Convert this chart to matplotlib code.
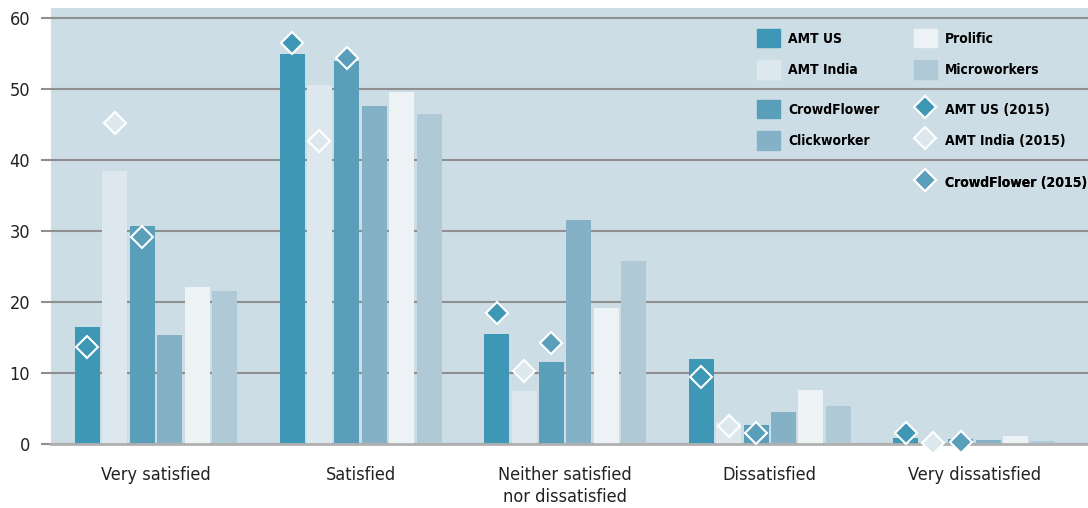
import matplotlib.pyplot as plt
from matplotlib.patches import Patch
from matplotlib.lines import Line2D
import numpy as np

categories = ['Very satisfied', 'Satisfied', 'Neither satisfied\nnor dissatisfied',
              'Dissatisfied', 'Very dissatisfied']

# bars (2017)
amt_us = [16.5, 54.9, 15.5, 12.0, 0.85]
amt_india = [38.5, 50.6, 7.5, 3.1, 0.0]
crowdflower = [30.7, 53.9, 11.5, 2.7, 0.7]
clickworker = [15.4, 47.6, 31.5, 4.5, 0.55]
prolific = [22.1, 49.6, 19.2, 7.6, 1.1]
microworkers = [21.5, 46.5, 25.8, 5.4, 0.4]

# diamonds (2015)
amt_us_2015 = [13.6, 56.5, 18.5, 9.5, 1.6]
amt_india_2015 = [45.2, 42.6, 10.3, 2.6, 0.1]
crowdflower_2015 = [29.1, 54.4, 14.2, 1.6, 0.3]

bar_series = [('AMT US', amt_us, '#3d97b5'),
              ('AMT India', amt_india, '#dde8ee'),
              ('CrowdFlower', crowdflower, '#5a9fba'),
              ('Clickworker', clickworker, '#85b1c7'),
              ('Prolific', prolific, '#edf2f5'),
              ('Microworkers', microworkers, '#b0c9d6')]

plt.rcParams['font.family'] = ['DejaVu Sans']
plt.rcParams['font.stretch'] = 'condensed'

fig = plt.figure(figsize=(10.88, 5.08), dpi=100)
ax = fig.add_axes([51/1088, 1-444/508, 1-51/1088, (444-8)/508])
ax.set_facecolor('#cddde5')

x = np.arange(len(categories))
step = 0.134
w = 0.122
offsets = (np.arange(6) - 2.5) * step
for (name, vals, col), off in zip(bar_series, offsets):
    ax.bar(x + off, vals, width=w, color=col, zorder=2)

marker_series = [('AMT US (2015)', amt_us_2015, '#3d97b5', offsets[0]),
                 ('AMT India (2015)', amt_india_2015, '#dde8ee', offsets[1]),
                 ('CrowdFlower (2015)', crowdflower_2015, '#5a9fba', offsets[2])]
for name, vals, col, off in marker_series:
    ax.plot(x + off, vals, ls='none', marker='D', ms=11, mfc=col, mec='white',
            mew=1.5, zorder=3, clip_on=False)

ax.set_xlim(-0.513, 4.555)
ax.set_ylim(0, 61.4)
ax.set_yticks(range(0, 61, 10))
ax.yaxis.grid(True, color='#8f8f8f', lw=1.5)
ax.set_axisbelow(True)
for s in ['top', 'right', 'left']:
    ax.spines[s].set_visible(False)
ax.spines['bottom'].set_color('#b0b0b0')
ax.spines['bottom'].set_linewidth(2)
ax.tick_params(axis='y', length=7, width=1.5, color='#8f8f8f', pad=8,
               labelsize=13, labelcolor='#222222')
ax.set_xticks(x)
ax.set_xticklabels(categories, fontsize=13, color='#222222', linespacing=1.25)
ax.tick_params(axis='x', length=0, pad=16)

# legend entries, laid out in small blocks between the grid lines
def patch(c):
    return Patch(color=c)

def diamond(c):
    return Line2D([], [], ls='none', marker='D', ms=11, mfc=c, mec='white', mew=1.5)

cols = {n: c for n, _, c in bar_series}
mcols = {n: c for n, _, c, _ in marker_series}
blocks = [
    (['AMT US', 'AMT India'], 757, 29),
    (['CrowdFlower', 'Clickworker'], 757, 100),
    (['Prolific', 'Microworkers'], 914, 29),
    (['AMT US (2015)', 'AMT India (2015)'], 914, 100),
    (['CrowdFlower (2015)'], 914, 173),
]
for names, px, py in blocks:
    hs = [patch(cols[n]) if n in cols else diamond(mcols[n]) for n in names]
    leg = ax.legend(hs, names, loc='upper left', bbox_to_anchor=(px/1088, 1-py/508),
                    bbox_transform=fig.transFigure, frameon=False, borderpad=0,
                    prop={'weight': 'bold', 'size': 10, 'stretch': 'condensed'},
                    handlelength=1.65, handleheight=1.65, labelspacing=0.95,
                    handletextpad=0.6, borderaxespad=0)
    ax.add_artist(leg)

fig.savefig('out.png', dpi=100)
